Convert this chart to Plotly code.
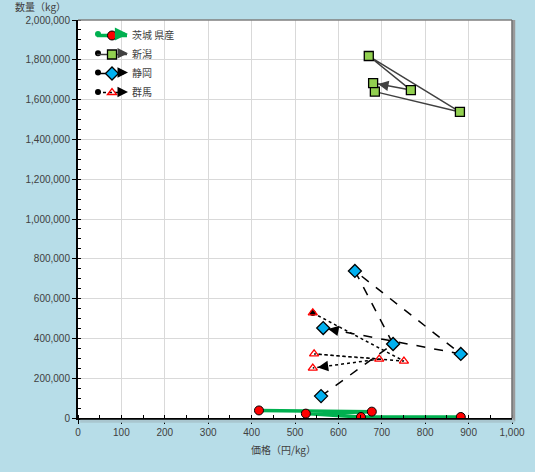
import plotly.graph_objects as go
import math

# ---- data (price yen/kg, quantity kg), in time order ----
series_names = ["茨城 県産", "新潟", "静岡", "群馬"]
ibaraki_price = [417, 677, 525, 652, 882]
ibaraki_qty = [38000, 32000, 22000, 5000, 5000]
niigata_price = [684, 880, 670, 767, 680]
niigata_qty = [1640000, 1538000, 1819000, 1648000, 1683000]
shizuoka_price = [560, 726, 638, 882, 565]
shizuoka_qty = [110000, 372000, 739000, 322000, 452000]
gunma_price = [541, 751, 544, 694, 541]
gunma_qty = [528000, 286000, 322000, 296000, 251000]

x_ticks = [0, 100, 200, 300, 400, 500, 600, 700, 800, 900, 1000]
y_ticks = [0, 200000, 400000, 600000, 800000, 1000000, 1200000, 1400000,
           1600000, 1800000, 2000000]

W, H = 535, 472
ML, MR, MT, MB = 78, 23, 20, 54
PW, PH = W - ML - MR, H - MT - MB
XMAX, YMAX = x_ticks[-1], y_ticks[-1]

styles = [
    dict(x=ibaraki_price, y=ibaraki_qty, lc="#00b050", lw=3.5, dash="solid",
         sym="circle", ms=9, mfill="#ff0000", mline="#000000", mlw=1, start="#00b050",
         arrow=False),
    dict(x=niigata_price, y=niigata_qty, lc="#404040", lw=1.5, dash="solid",
         sym="square", ms=9, mfill="#92d050", mline="#000000", mlw=1.3, start="#000000",
         arrow=True),
    dict(x=shizuoka_price, y=shizuoka_qty, lc="#000000", lw=1.5, dash="dash",
         sym="diamond", ms=10, mfill="#00b0f0", mline="#000000", mlw=1.3, start="#000000",
         arrow=True),
    dict(x=gunma_price, y=gunma_qty, lc="#000000", lw=1.5, dash="dot",
         sym="triangle-up", ms=8, mfill="rgba(255,255,255,0)", mline="#ff0000", mlw=1.3,
         start="#000000", arrow=True),
]

fig = go.Figure()

# start dots (oval line start)
for s in styles:
    fig.add_trace(go.Scatter(x=[s["x"][0]], y=[s["y"][0]], mode="markers",
                             marker=dict(symbol="circle", size=6, color=s["start"]),
                             showlegend=False, hoverinfo="skip"))

for name, s in zip(series_names, styles):
    fig.add_trace(go.Scatter(
        x=s["x"], y=s["y"], name=name, mode="lines+markers",
        line=dict(color=s["lc"], width=s["lw"], dash=s["dash"]),
        marker=dict(symbol=s["sym"], size=s["ms"], color=s["mfill"],
                    line=dict(color=s["mline"], width=s["mlw"])),
    ))

# arrowheads at the end of each series (direction of last segment)
for s in styles:
    if not s["arrow"]:
        continue
    x0, y0 = s["x"][-2], s["y"][-2]
    x1, y1 = s["x"][-1], s["y"][-1]
    dx = (x1 - x0) / XMAX * PW
    dy = -(y1 - y0) / YMAX * PH
    L = math.hypot(dx, dy)
    ux, uy = dx / L, dy / L
    back = 13
    fig.add_annotation(x=x1, y=y1, xref="x", yref="y", axref="pixel", ayref="pixel",
                       ax=-ux * back, ay=-uy * back, text="", showarrow=True,
                       arrowhead=2, arrowsize=1.4,
                       arrowwidth=s["lw"], arrowcolor=s["lc"], standoff=5)

# legend decorations: start dot and end arrow beside each legend symbol
LEG_TOP, LEG_STEP = 34.0, 19.3
for i, s in enumerate(styles):
    py = LEG_TOP + LEG_STEP * i
    yp = 1 - (py - MT) / PH
    xd = (98 - ML) / PW
    fig.add_shape(type="circle", xref="paper", yref="paper",
                  x0=xd - 3 / PW, x1=xd + 3 / PW, y0=yp - 3 / PH, y1=yp + 3 / PH,
                  fillcolor=s["start"], line=dict(width=0))
    fig.add_annotation(xref="paper", yref="paper", x=(128 - ML) / PW, y=yp,
                       axref="pixel", ayref="pixel", ax=-8, ay=0, text="",
                       showarrow=True, arrowhead=2,
                       arrowsize=1.4 if s["lw"] < 3 else 0.75,
                       arrowwidth=s["lw"], arrowcolor=s["lc"], standoff=0)

# frame (top / right border with shadow)
fig.add_shape(type="line", xref="paper", yref="paper", x0=0, x1=1, y0=1, y1=1,
              line=dict(color="#7f7f7f", width=1.5))
fig.add_shape(type="line", xref="paper", yref="paper", x0=1.004, x1=1.004, y0=-0.008, y1=1,
              line=dict(color="#9a9a9a", width=3))
fig.add_shape(type="line", xref="paper", yref="paper", x0=1, x1=1, y0=0, y1=1,
              line=dict(color="#6f6f6f", width=1.5))
fig.add_shape(type="line", xref="paper", yref="paper", x0=0.005, x1=1.006, y0=-0.008, y1=-0.008,
              line=dict(color="#a9c6cf", width=3))

tick_font = dict(family="Liberation Sans, Arial", size=10, color="#404040")
jp_font = dict(family="Noto Sans CJK JP", size=10, color="#404040")

fig.add_annotation(xref="paper", yref="paper", x=(13 - ML) / PW, y=1 + (MT - 7) / PH,
                   xanchor="left", yanchor="middle", text="数量（kg）", showarrow=False,
                   font=jp_font)
fig.add_annotation(xref="paper", yref="paper", x=(283 - ML) / PW, y=-(449 - MT - PH) / PH,
                   xanchor="center", yanchor="middle", text="価格（円/kg）", showarrow=False,
                   font=jp_font)

axis_common = dict(showgrid=True, gridcolor="#d9d9d9", gridwidth=1, zeroline=False,
                   showline=True, linecolor="#000000", linewidth=2,
                   ticks="outside", ticklen=4, tickcolor="#000000", tickwidth=1,
                   tickformat=",", tickfont=tick_font)

fig.update_layout(
    width=W, height=H,
    margin=dict(l=ML, r=MR, t=MT, b=MB, autoexpand=False),
    paper_bgcolor="#b7dde8", plot_bgcolor="#ffffff",
    xaxis=dict(range=[0, XMAX], tickvals=x_ticks, **axis_common,
               minor=dict(dtick=50, ticks="inside", ticklen=3, tickcolor="#000000",
                          showgrid=False)),
    yaxis=dict(range=[0, YMAX], tickvals=y_ticks, **axis_common,
               minor=dict(dtick=50000, ticks="inside", ticklen=3, tickcolor="#000000",
                          showgrid=False)),
    legend=dict(x=(92 - ML) / PW, y=1 - (21 - MT) / PH, xanchor="left", yanchor="top",
                bgcolor="rgba(255,255,255,0)", font=jp_font, tracegroupgap=0,
                itemwidth=30),
    showlegend=True,
)

fig.write_html("out.html", config={"displayModeBar": False},
               post_script="document.body.style.margin='0px';document.body.style.padding='0px';")
